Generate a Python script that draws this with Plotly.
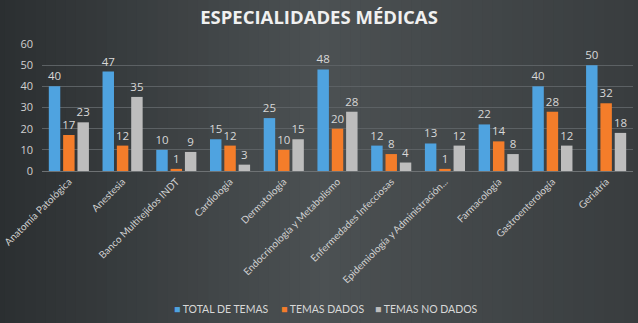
import plotly.graph_objects as go

categories = ["Anatomía Patológica", "Anestesia", "Banco Multitejidos INDT", "Cardiología",
              "Dermatología", "Endocrinología y Metabolismo", "Enfermedades Infecciosas",
              "Epidemiología y Administración...", "Farmacología", "Gastroenterología", "Geriatría"]
total_temas = [40, 47, 10, 15, 25, 48, 12, 13, 22, 40, 50]
temas_dados = [17, 12, 1, 12, 10, 20, 8, 1, 14, 28, 32]
temas_no_dados = [23, 35, 9, 3, 15, 28, 4, 12, 8, 12, 18]
series_names = ["TOTAL DE TEMAS", "TEMAS DADOS", "TEMAS NO DADOS"]
colors = ["#4fa3e0", "#f47d2a", "#bdbdbd"]

fig = go.Figure()
for name, vals, col in zip(series_names, [total_temas, temas_dados, temas_no_dados], colors):
    fig.add_trace(go.Bar(
        x=categories, y=vals, name=name, marker=dict(color=col, line=dict(width=0)),
        text=vals, textposition="outside", cliponaxis=False, constraintext="none",
        textfont=dict(color="#d8d8d8", size=11.5, family="Open Sans"),
        showlegend=False,
    ))

# background gradient strips (dark left, lighter center)
def lerp(a, b, t):
    return tuple(int(round(a[i] + (b[i] - a[i]) * t)) for i in range(3))

left = (0x2a, 0x2e, 0x30)
mid = (0x4c, 0x51, 0x53)
right = (0x38, 0x3c, 0x3e)
shapes = []
n = 64
for i in range(n):
    t = (i + 0.5) / n
    if t < 0.5:
        c = lerp(left, mid, t / 0.5)
    else:
        c = lerp(mid, right, (t - 0.5) / 0.5)
    shapes.append(dict(type="rect", xref="paper", yref="paper", layer="below",
                       x0=-0.08 + i * (1.1 / n), x1=-0.08 + (i + 1.05) * (1.1 / n),
                       y0=-1.3, y1=1.4, line=dict(width=0),
                       fillcolor="rgb(%d,%d,%d)" % c))

PL, PR = 42, 633
legend_x = [172, 279, 373]
annotations = []
for name, col, lx in zip(series_names, colors, legend_x):
    annotations.append(dict(
        text="<span style='color:%s'>■</span> %s" % (col, name),
        xref="paper", yref="paper", x=(lx - PL) / (PR - PL), y=-1.09, xanchor="left", yanchor="middle",
        showarrow=False, font=dict(size=10.5, color="#d8d8d8", family="Lato, Open Sans")))

fig.update_layout(
    width=638, height=323,
    margin=dict(l=PL, r=638 - PR, t=44, b=152),
    paper_bgcolor="#3c4144", plot_bgcolor="rgba(0,0,0,0)",
    shapes=shapes, annotations=annotations,
    title=dict(text="<b>ESPECIALIDADES MÉDICAS</b>", x=0.5, xanchor="center", y=0.945, yanchor="middle",
               font=dict(family="Open Sans", size=18.5, color="#f0f0f0")),
    barmode="group", bargap=0.2, bargroupgap=0.2,
    font=dict(family="Open Sans", color="#d8d8d8"),
    xaxis=dict(tickangle=-45, tickfont=dict(size=10, color="#d0d0d0", family="Lato, Open Sans"),
               showgrid=False, showline=True, linecolor="#6e7274", linewidth=1, ticks="",
               automargin=False),
    yaxis=dict(range=[0, 60], dtick=10, tickfont=dict(size=11, color="#d0d0d0"),
               gridcolor="#5c6164", gridwidth=1, zeroline=False, showline=False, ticks="",
               ticklabelstandoff=8, automargin=False),
    showlegend=False,
)
fig.write_html("out.html")
